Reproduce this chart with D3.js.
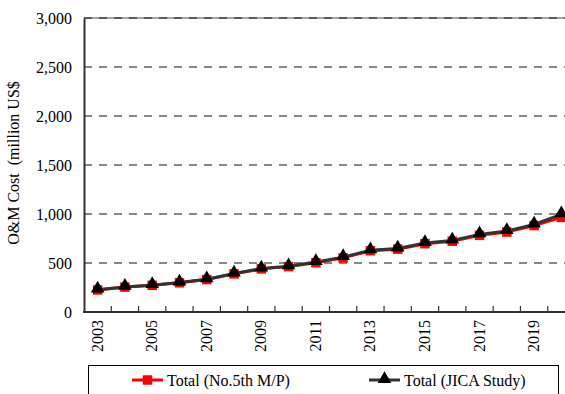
<!DOCTYPE html>
<html>
<head>
<meta charset="utf-8">
<script src="https://cdn.jsdelivr.net/npm/d3@7"></script>
<style>
  body { margin: 0; background: #fff; }
</style>
</head>
<body>
<div id="d3-container"></div>
<script>
// data
const years = d3.range(2003, 2021);
const yearLabels = [2003, 2005, 2007, 2009, 2011, 2013, 2015, 2017, 2019];
const masterPlan = [225, 254, 272, 298, 331, 389, 440, 463, 503, 552, 625, 641, 697, 722, 782, 816, 882, 965];
const jicaStudy = [228, 256, 274, 301, 334, 392, 443, 466, 510, 560, 630, 647, 703, 729, 792, 826, 893, 996];
const yTicks = [0, 500, 1000, 1500, 2000, 2500, 3000];

const width = 565,
  height = 394,
  margin = { top: 18, bottom: 82, left: 84, right: -10 },
  serif = "'Liberation Serif', 'Times New Roman', Times, serif";

const svg = d3.select("#d3-container")
  .append("svg")
  .attr("width", width)
  .attr("height", height);

const xScale = d3.scaleBand()
  .domain(years)
  .range([margin.left, width - margin.right]);
const yScale = d3.scaleLinear()
  .domain([0, 3000])
  .range([height - margin.bottom, margin.top]);

const cx = d => xScale(d) + xScale.bandwidth() / 2;

// gridlines
svg.append("line")
  .attr("x1", margin.left).attr("x2", width)
  .attr("y1", yScale(3000)).attr("y2", yScale(3000))
  .attr("stroke", "#888").attr("stroke-width", 1.5);
svg.selectAll(".grid")
  .data(yTicks.slice(1))
  .join("line")
  .attr("class", "grid")
  .attr("x1", margin.left).attr("x2", width)
  .attr("y1", d => yScale(d)).attr("y2", d => yScale(d))
  .attr("stroke", "#111")
  .attr("stroke-width", 1)
  .attr("stroke-dasharray", "8,7");

// y axis
const yAxis = svg.append("g")
  .attr("transform", `translate(${margin.left},0)`)
  .call(d3.axisLeft(yScale).tickValues(yTicks).tickSize(0).tickPadding(12)
    .tickFormat(d3.format(",")));
yAxis.select(".domain").attr("stroke", "#333").attr("stroke-width", 2);
yAxis.selectAll("text")
  .attr("fill", "#000")
  .style("font-family", serif)
  .style("font-size", "16px");

// x axis: ticks between categories, pointing inward
const y0 = yScale(0);
svg.append("line")
  .attr("x1", margin.left - 1).attr("x2", width)
  .attr("y1", y0).attr("y2", y0)
  .attr("stroke", "#333").attr("stroke-width", 2);
svg.selectAll(".xtick")
  .data(years.slice(1))
  .join("line")
  .attr("class", "xtick")
  .attr("x1", d => xScale(d)).attr("x2", d => xScale(d))
  .attr("y1", y0).attr("y2", y0 - 6)
  .attr("stroke", "#333").attr("stroke-width", 1.2);
svg.selectAll(".xlabel")
  .data(yearLabels)
  .join("text")
  .attr("class", "xlabel")
  .attr("transform", d => `translate(${cx(d) + 5},${y0 + 8}) rotate(-90)`)
  .attr("text-anchor", "end")
  .style("font-family", serif)
  .style("font-size", "16px")
  .text(d => d);

// y axis title
svg.append("text")
  .attr("transform", `translate(19,163) rotate(-90)`)
  .attr("text-anchor", "middle")
  .style("font-family", serif)
  .style("font-size", "16px")
  .style("white-space", "pre")
  .text("O&M Cost  (million US$");

// lines
const line = d3.line().x((d, i) => cx(years[i])).y(d => yScale(d));

svg.append("path")
  .datum(masterPlan)
  .attr("fill", "none")
  .attr("stroke", "#ff0000")
  .attr("stroke-width", 3)
  .attr("d", line);
svg.append("path")
  .datum(jicaStudy)
  .attr("fill", "none")
  .attr("stroke", "#333")
  .attr("stroke-width", 3)
  .attr("d", line);

const square = d3.symbol().type(d3.symbolSquare).size(90);
const triangle = d3.symbol().type(d3.symbolTriangle).size(80);

svg.selectAll(".sq")
  .data(masterPlan)
  .join("path")
  .attr("class", "sq")
  .attr("d", square)
  .attr("fill", "#ff0000")
  .attr("transform", (d, i) => `translate(${cx(years[i])},${yScale(d)})`);
svg.selectAll(".tri")
  .data(jicaStudy)
  .join("path")
  .attr("class", "tri")
  .attr("d", triangle)
  .attr("fill", "#000")
  .attr("transform", (d, i) => `translate(${cx(years[i])},${yScale(d) - 1})`);

// legend
const legend = svg.append("g");
legend.append("rect")
  .attr("x", 88.5).attr("y", 365.5)
  .attr("width", 470).attr("height", 40)
  .attr("fill", "none").attr("stroke", "#000").attr("stroke-width", 1);

const items = [
  { name: "Total (No.5th M/P)", color: "#ff0000", sym: square, x: 132 },
  { name: "Total (JICA Study)", color: "#333", sym: triangle, x: 369 }
];
items.forEach(it => {
  legend.append("line")
    .attr("x1", it.x).attr("x2", it.x + 31)
    .attr("y1", 380).attr("y2", 380)
    .attr("stroke", it.color).attr("stroke-width", 3);
  legend.append("path")
    .attr("d", it.sym)
    .attr("fill", it.color === "#333" ? "#000" : it.color)
    .attr("transform", `translate(${it.x + 15.5},${it.sym === triangle ? 379 : 380})`);
  legend.append("text")
    .attr("x", it.x + 35).attr("y", 386)
    .style("font-family", serif)
    .style("font-size", "16px")
    .text(it.name);
});
</script>
</body>
</html>
